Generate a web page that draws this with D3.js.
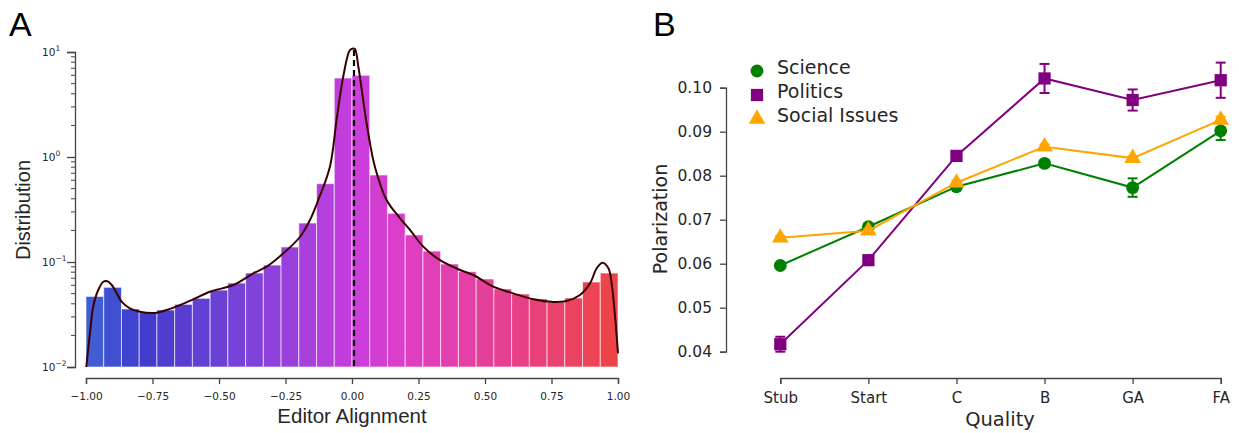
<!DOCTYPE html>
<html>
<head>
<meta charset="utf-8">
<script src="https://cdn.jsdelivr.net/npm/d3@7"></script>
<style>
  body { margin: 0; background: #fff; }
  svg text { fill: #262626; }
</style>
</head>
<body>
<div id="chart"></div>
<script>
// panel A: histogram of editor alignment (30 bins, -1..1), log scale
var binEdgesStart = [-1.0, -0.9333, -0.8667, -0.8, -0.7333, -0.6667, -0.6, -0.5333, -0.4667, -0.4,
  -0.3333, -0.2667, -0.2, -0.1333, -0.0667, 0.0, 0.0667, 0.1333, 0.2, 0.2667,
  0.3333, 0.4, 0.4667, 0.5333, 0.6, 0.6667, 0.7333, 0.8, 0.8667, 0.9333]
var binValues = [0.047, 0.0574, 0.0357, 0.0334, 0.0349, 0.0395, 0.0451, 0.054, 0.063, 0.0785,
  0.0935, 0.139, 0.235, 0.557, 5.65, 6.0, 0.674, 0.291, 0.181, 0.127,
  0.0957, 0.0809, 0.0689, 0.0553, 0.0496, 0.0445, 0.0413, 0.0454, 0.0645, 0.0785]
var binWidth = 2 / 30

// density curve
var kdeX = [-0.999, -0.985, -0.973, -0.954, -0.935, -0.922, -0.903, -0.885, -0.866, -0.835,
  -0.797, -0.734, -0.697, -0.647, -0.597, -0.534, -0.446, -0.371, -0.321, -0.258,
  -0.195, -0.158, -0.127, -0.083, -0.058, -0.033, -0.008, 0.004, 0.011, 0.024,
  0.042, 0.061, 0.086, 0.130, 0.180, 0.218, 0.268, 0.331, 0.406, 0.456,
  0.531, 0.606, 0.682, 0.757, 0.807, 0.857, 0.895, 0.920, 0.942, 0.964,
  0.976, 0.989, 1.0]
var kdeY = [0.010, 0.0211, 0.0375, 0.0541, 0.0649, 0.0659, 0.0604, 0.0507, 0.0419, 0.0362,
  0.0336, 0.0329, 0.0349, 0.0389, 0.0441, 0.0521, 0.0604, 0.078, 0.0902, 0.121,
  0.174, 0.251, 0.389, 0.809, 2.25, 5.82, 10.4, 10.8, 10.7, 7.24,
  3.49, 1.69, 0.809, 0.389, 0.262, 0.202, 0.140, 0.104, 0.0839, 0.0752,
  0.0582, 0.0503, 0.0441, 0.0416, 0.0425, 0.0485, 0.0627, 0.0871, 0.0985, 0.0871,
  0.0627, 0.0301, 0.0135]
var meanAlignment = 0.0075
var xTicksA = [-1, -0.75, -0.5, -0.25, 0, 0.25, 0.5, 0.75, 1]
var yTicksA = [0.01, 0.1, 1, 10]
var yTickExp = ["\u22122", "\u22121", "0", "1"]

// panel B: polarization by article quality
var qualities = ["Stub", "Start", "C", "B", "GA", "FA"]
var groupNames = ["Science", "Politics", "Social Issues"]
var scienceVals = [0.0596, 0.0684, 0.0775, 0.0828, 0.0773, 0.0902]
var scienceErr = [0.0004, 0.0004, 0.0005, 0.0007, 0.0021, 0.0021]
var politicsVals = [0.0417, 0.0608, 0.0845, 0.1021, 0.0972, 0.1017]
var politicsErr = [0.0017, 0.0004, 0.0004, 0.0033, 0.0024, 0.0040]
var socialVals = [0.0659, 0.0675, 0.0784, 0.0866, 0.0840, 0.0927]
var socialErr = [0.0004, 0.0004, 0.0005, 0.0005, 0.0004, 0.0007]
var yTicksB = [0.04, 0.05, 0.06, 0.07, 0.08, 0.09, 0.10]

var W = 1239, H = 433
var svg = d3.select('#chart').append('svg').attr('width', W).attr('height', H)
var axisColor = '#444'

// ---------- panel A ----------
var xA = d3.scaleLinear().domain([-1, 1]).range([86, 618])
var yA = d3.scaleLog().domain([0.01, 10]).range([367, 52])
var colorA = d3.scaleLinear()
  .domain([-1, -0.8, -0.4, 0, 0.2, 0.6, 1])
  .range(['#4264d4', '#3e3ccc', '#7a42d8', '#c83ede', '#de3ec6', '#e6408c', '#ee4444'])
  .interpolate(d3.interpolateRgb)

var gA = svg.append('g')
gA.selectAll('rect.bin').data(binValues).enter().append('rect')
  .attr('class', 'bin')
  .attr('x', function (d, i) { return xA(binEdgesStart[i]) })
  .attr('width', function (d, i) { return xA(binEdgesStart[i] + binWidth) - xA(binEdgesStart[i]) })
  .attr('y', function (d) { return yA(d) })
  .attr('height', function (d) { return yA(0.01) - yA(d) })
  .attr('fill', function (d, i) { return colorA(binEdgesStart[i] + binWidth / 2) })
  .attr('stroke', '#fff').attr('stroke-opacity', 0.6).attr('stroke-width', 1)

var kde = d3.line()
  .x(function (d, i) { return xA(kdeX[i]) })
  .y(function (d) { return yA(d) })
  .curve(d3.curveCatmullRom)
gA.append('path').attr('d', kde(kdeY))
  .attr('fill', 'none').attr('stroke', '#3a0000').attr('stroke-width', 2)

gA.append('line')
  .attr('x1', xA(meanAlignment)).attr('x2', xA(meanAlignment))
  .attr('y1', 50).attr('y2', yA(0.01))
  .attr('stroke', '#000').attr('stroke-width', 2.2).attr('stroke-dasharray', '6,4')

// x axis (offset spine)
var xAxisA = d3.axisBottom(xA).tickValues(xTicksA).tickSize(6)
  .tickFormat(function (d) { return d3.format('.2f')(d).replace('-', '\u2212') })
var gxA = gA.append('g').attr('transform', 'translate(0,378)').call(xAxisA)
gxA.select('.domain').attr('stroke', axisColor).attr('stroke-width', 1.3)
gxA.selectAll('.tick line').attr('stroke', axisColor).attr('stroke-width', 1.3)
gxA.selectAll('.tick text').attr('font-family', 'DejaVu Sans').attr('font-size', 10.5)
  .attr('fill', '#262626').attr('dy', '1.25em')

// y axis with log minor ticks
var yAxisA = d3.axisLeft(yA).tickValues(yTicksA).tickSize(8).tickFormat('')
var gyA = gA.append('g').attr('transform', 'translate(75,0)').call(yAxisA)
gyA.select('.domain').attr('stroke', axisColor).attr('stroke-width', 1.3)
gyA.selectAll('.tick line').attr('stroke', axisColor).attr('stroke-width', 1.3)
var minor = []
yTicksA.slice(0, 3).forEach(function (t) { for (var k = 2; k < 10; k++) minor.push(t * k) })
gyA.selectAll('line.minor').data(minor).enter().append('line')
  .attr('class', 'minor').attr('x1', 0).attr('x2', -4)
  .attr('y1', function (d) { return yA(d) }).attr('y2', function (d) { return yA(d) })
  .attr('stroke', axisColor).attr('stroke-width', 1)
yTicksA.forEach(function (t, i) {
  var tx = gyA.append('text').attr('x', -33).attr('y', yA(t) + 4)
    .attr('text-anchor', 'start').attr('font-family', 'DejaVu Sans').attr('font-size', 10.5)
  tx.append('tspan').text('10')
  tx.append('tspan').attr('dy', -5).attr('font-size', 7.5).text(yTickExp[i])
})

gA.append('text').attr('x', xA(0)).attr('y', 423).attr('text-anchor', 'middle')
  .attr('font-family', 'Liberation Sans').attr('font-size', 20.5).text('Editor Alignment')
gA.append('text').attr('transform', 'translate(30,210) rotate(-90)').attr('text-anchor', 'middle')
  .attr('font-family', 'Liberation Sans').attr('font-size', 20).text('Distribution')
svg.append('text').attr('x', 9).attr('y', 36).attr('font-family', 'Liberation Sans')
  .attr('font-size', 34).style('fill', '#000').text('A')

// ---------- panel B ----------
var xB = d3.scalePoint().domain(qualities).range([780.3, 1220.7])
var yB = d3.scaleLinear().domain([0.04, 0.10]).range([351.7, 87.7])
var gB = svg.append('g')

var xAxisB = d3.axisBottom(xB).tickSize(6)
var gxB = gB.append('g').attr('transform', 'translate(0,378)').call(xAxisB)
gxB.select('.domain').attr('stroke', axisColor).attr('stroke-width', 1.3)
gxB.selectAll('.tick line').attr('stroke', axisColor).attr('stroke-width', 1.3)
gxB.selectAll('.tick text').attr('font-family', 'DejaVu Sans').attr('font-size', 15)
  .attr('fill', '#262626').attr('dy', '1.05em')

var yAxisB = d3.axisLeft(yB).tickValues(yTicksB).tickSize(6).tickFormat(d3.format('.2f'))
var gyB = gB.append('g').attr('transform', 'translate(726,0)').call(yAxisB)
gyB.select('.domain').attr('stroke', axisColor).attr('stroke-width', 1.3)
gyB.selectAll('.tick line').attr('stroke', axisColor).attr('stroke-width', 1.3)
gyB.selectAll('.tick text').attr('font-family', 'DejaVu Sans').attr('font-size', 15.5)
  .attr('fill', '#262626').attr('x', -14)

gB.append('text').attr('x', 1000).attr('y', 426).attr('text-anchor', 'middle')
  .attr('font-family', 'DejaVu Sans').attr('font-size', 19.5).text('Quality')
gB.append('text').attr('transform', 'translate(667,219) rotate(-90)').attr('text-anchor', 'middle')
  .attr('font-family', 'DejaVu Sans').attr('font-size', 19).text('Polarization')
svg.append('text').attr('x', 653).attr('y', 36).attr('font-family', 'Liberation Sans')
  .attr('font-size', 34).style('fill', '#000').text('B')

var series = [
  {name: groupNames[0], vals: scienceVals, err: scienceErr, color: 'green', shape: d3.symbolCircle, size: 130},
  {name: groupNames[1], vals: politicsVals, err: politicsErr, color: 'purple', shape: d3.symbolSquare, size: 150},
  {name: groupNames[2], vals: socialVals, err: socialErr, color: 'orange', shape: d3.symbolTriangle, size: 120}
]
var lineB = d3.line().x(function (d, i) { return xB(qualities[i]) }).y(function (d) { return yB(d) })

series.forEach(function (s) {
  var g = gB.append('g')
  g.append('path').attr('d', lineB(s.vals)).attr('fill', 'none')
    .attr('stroke', s.color).attr('stroke-width', 2)
  s.vals.forEach(function (v, i) {
    var x = xB(qualities[i]), lo = yB(v - s.err[i]), hi = yB(v + s.err[i])
    g.append('line').attr('x1', x).attr('x2', x).attr('y1', lo).attr('y2', hi)
      .attr('stroke', s.color).attr('stroke-width', 2)
    ;[lo, hi].forEach(function (yy) {
      g.append('line').attr('x1', x - 5).attr('x2', x + 5).attr('y1', yy).attr('y2', yy)
        .attr('stroke', s.color).attr('stroke-width', 2)
    })
  })
  g.selectAll('path.mk').data(s.vals).enter().append('path').attr('class', 'mk')
    .attr('d', d3.symbol().type(s.shape).size(s.size))
    .attr('transform', function (d, i) { return 'translate(' + xB(qualities[i]) + ',' + yB(d) + ')' })
    .attr('fill', s.color)
})

// legend
var legend = gB.append('g').attr('transform', 'translate(757,67)')
series.forEach(function (s, i) {
  legend.append('path').attr('d', d3.symbol().type(s.shape).size(s.size))
    .attr('transform', 'translate(0,' + (i * 24 + 4) + ')').attr('fill', s.color)
  legend.append('text').attr('x', 20).attr('y', i * 24).attr('dy', '0.35em')
    .attr('font-family', 'DejaVu Sans').attr('font-size', 19).text(s.name)
})
</script>
</body>
</html>
